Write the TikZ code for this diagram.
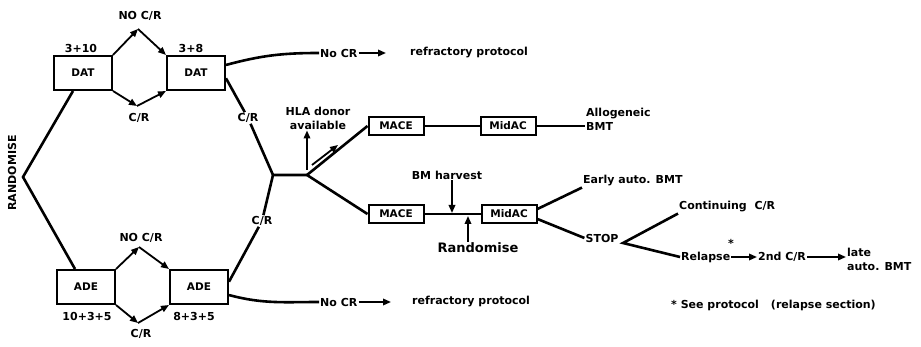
\documentclass[tikz,border=0pt]{standalone}
\usepackage{fontspec}
\setmainfont{DejaVu Sans}
\usetikzlibrary{calc, arrows.meta}

\tikzset{
	stage/.style={draw, line width=2pt, minimum width=58pt, minimum height=34pt, inner sep=0pt, font=\bfseries\fontsize{10.5}{11}\selectfont},
	course/.style={stage, minimum width=55pt, minimum height=18pt},
	lbl/.style={inner sep=1pt, font=\bfseries\fontsize{11}{14}\selectfont},
	arr/.style={line width=1.8pt, -{Triangle[length=8pt, width=6.5pt]}},
	route/.style={line width=2.6pt},
	link/.style={line width=1.8pt},
}

\begin{document}
\begin{tikzpicture}[x=1pt, y=-1pt]

	\useasboundingbox (0,0) rectangle (921,347);

	\node[stage] (dat1) at (83,73) {DAT};
	\node[stage] (dat2) at (196,73) {DAT};
	\node[stage] (ade1) at (86,287) {ADE};
	\node[stage] (ade2) at (199,287) {ADE};

	\node[lbl] (dat1days) at (81,48) {3+10};
	\node[lbl] (dat2days) at (191,48) {3+8};
	\node[lbl] (ade1days) at (87,316) {10+3+5};
	\node[lbl] (ade2days) at (194,316) {8+3+5};

	\node[lbl, rotate=90] (randlabel) at (12,173) {RANDOMISE};
	\coordinate (rand) at (23,177);
	\draw[route] ($(dat1.south)+(-10,0)$) -- (rand) -- ($(ade1.north)+(-11,0)$);

	\node[lbl] (failT) at (140,16) {NO C/R};
	\node[lbl] (crT) at (139,118) {C/R};
	\node[lbl] (failB) at (141,238) {NO C/R};
	\node[lbl] (crB) at (141,334) {C/R};
	\coordinate (failTv) at (138,29);
	\coordinate (crTv) at (137,106);
	\coordinate (failBv) at (139,247);
	\coordinate (crBv) at (138,323);

	\draw[arr] (dat1.north east) -- (failTv);
	\draw[arr] (failTv) -- (dat2.north west);
	\draw[arr] (dat1.south east) -- (crTv);
	\draw[arr] (crTv) -- (dat2.south west);
	\draw[arr] (ade1.north east) -- (failBv);
	\draw[arr] (failBv) -- (ade2.north west);
	\draw[arr] (ade1.south east) -- (crBv);
	\draw[arr] (crBv) -- (ade2.south west);

	\node[lbl, anchor=west] (nocrTop) at (319,53) {No CR};
	\node[lbl, anchor=west] (refrTop) at (409,53) {refractory protocol};
	\coordinate (refrTopTip) at (386,53);
	\draw[route] (dat2.15) to[out=15, in=180] (nocrTop.west);
	\draw[arr] (nocrTop.east) -- (refrTopTip);

	\node[lbl, anchor=west] (nocrBot) at (319,302) {No CR};
	\node[lbl, anchor=west] (refrBot) at (411,302) {refractory protocol};
	\coordinate (refrBotTip) at (391,302);
	\draw[route] (ade2.-15) to[out=-15, in=180] (nocrBot.west);
	\draw[arr] (nocrBot.east) -- (refrBotTip);

	\node[lbl] (crR1) at (248,118) {C/R};
	\node[lbl] (crR2) at (262,221) {C/R};
	\coordinate (junc) at (273,175);
	\coordinate (split) at (307,175);
	\draw[route] (dat2.-10) -- (crR1) -- (junc);
	\draw[route] (ade2.10) -- (crR2) -- (junc) -- (split);

	\node[course] (mace1) at (396,126) {MACE};
	\node[course] (midac1) at (508,126) {MidAC};
	\node[course] (mace2) at (396,214) {MACE};
	\node[course] (midac2) at (509,214) {MidAC};
	\draw[route] (split) -- (mace1.west);
	\draw[route] (split) -- (mace2.west);
	\draw[link] (mace1) -- (midac1);
	\draw[link] (mace2) -- (midac2);

	\node[lbl, align=center] (hla) at (318,118) {HLA donor\\available};
	\coordinate (hlafoot) at (307,170);
	\draw[arr] (hlafoot) -- (hlafoot |- hla.south);
	\coordinate (dblA) at (312,165);
	\coordinate (dblB) at (338,145);
	\draw[arr] (dblA) -- (dblB);

	\node[lbl, anchor=west, align=left] (allo) at (585,119) {Allogeneic\\BMT};
	\draw[link] (midac1.east) -- (allo.west |- midac1.east);

	\node[lbl] (harvest) at (447,175) {BM harvest};
	\coordinate (harvestTip) at (452,213);
	\draw[arr] (harvest.south -| harvestTip) -- (harvestTip);
	\node[lbl, font=\bfseries\fontsize{13}{14}\selectfont] (rerand) at (478,248) {Randomise};
	\coordinate (rerandTip) at (468,216);
	\draw[arr] (rerand.north -| rerandTip) -- (rerandTip);

	\node[lbl, anchor=west] (early) at (582,181) {Early auto. BMT};
	\node[lbl] (stop) at (602,238) {STOP};
	\draw[route] (midac2.10) -- (early.south west);
	\draw[route] (midac2.-10) -- (stop.west);

	\coordinate (stopfork) at (623,243);
	\node[lbl, anchor=west] (cont) at (678,207) {Continuing\ \ C/R};
	\node[lbl, anchor=west] (relapse) at (680,257) {Relapse};
	\node[lbl] (relstar) at (731,243) {*};
	\draw[route] (cont.south west) -- (stopfork) -- (relapse.west);

	\node[lbl, anchor=west] (second) at (757,257) {2nd C/R};
	\node[lbl, anchor=west, align=left] (late) at (846,259) {late\\auto. BMT};
	\draw[arr] (relapse.east) -- (second.west);
	\draw[arr] (second.east) -- (second.east -| late.west);

	\node[lbl, anchor=west] (foot) at (670,305) {* See protocol\hspace{12pt}(relapse section)};

\end{tikzpicture}
\end{document}
